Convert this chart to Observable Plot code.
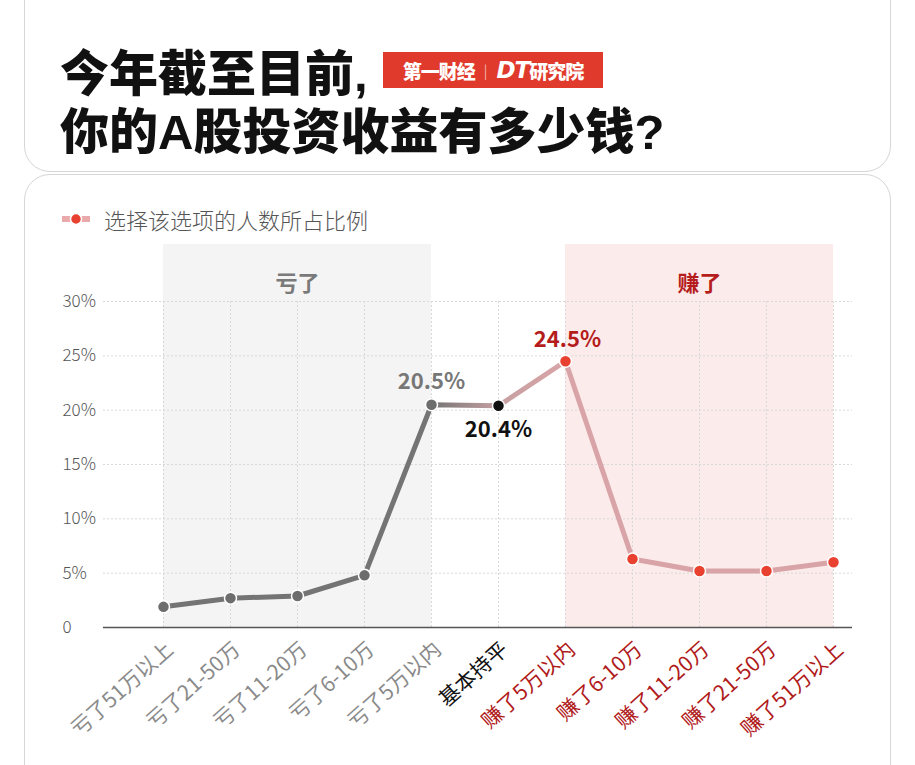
<!DOCTYPE html>
<html><head><meta charset="utf-8">
<script src="https://cdn.jsdelivr.net/npm/d3@7"></script>
<script src="https://cdn.jsdelivr.net/npm/@observablehq/plot@0.6"></script>
<style>
html,body{margin:0;padding:0;background:#fff;width:915px;height:765px;overflow:hidden;font-family:"Noto Sans CJK SC","Noto Sans",sans-serif;}
#page{position:relative;width:915px;height:765px;}
.card{position:absolute;left:24px;width:867px;border:1.5px solid #d6d6d6;border-radius:26px;background:#fff;box-sizing:border-box}
#top{top:-30px;height:202px;}
#bottom{top:174px;height:640px;}
#title{position:absolute;left:60px;top:45px;font-family:"Liberation Sans","Noto Sans CJK SC",sans-serif;font-size:49px;font-weight:900;color:#111;line-height:58px;white-space:nowrap;margin:0}
#logo{position:absolute;left:383px;top:52px;width:220px;height:36px;background:#e03a2c;color:#fff;display:flex;align-items:center;justify-content:center;font-weight:900;white-space:nowrap}
#logo .a{font-size:19px;letter-spacing:-1px}
#logo .sep{font-size:14px;margin:0 9px;opacity:.8;font-weight:300}
#logo .dt{font-size:23px;font-style:italic;font-family:"DejaVu Sans",sans-serif;font-weight:bold;letter-spacing:-1px}
#logo .b{font-size:19px;letter-spacing:-1px}
#legend{position:absolute;left:62px;top:204px;height:30px;display:flex;align-items:center;}
#legend .txt{font-size:22px;color:#555;font-weight:300;margin-left:14px}
#chart{position:absolute;left:0;top:240px;}
</style></head>
<body><div id="page">
<div class="card" id="top"></div>
<div class="card" id="bottom"></div>
<h1 id="title">今年截至目前,<br>你的A股投资收益有多少钱?</h1>
<div id="logo"><span class="a">第一财经</span><span class="sep">|</span><span class="dt">DT</span><span class="b">研究院</span></div>
<div id="legend"><svg width="28" height="16"><line x1="1" y1="8" x2="27" y2="8" stroke="#eaa9aa" stroke-width="6" stroke-linecap="round"/><circle cx="14" cy="8" r="5.5" fill="#e8412f" stroke="#fff" stroke-width="1.5"/></svg><span class="txt">选择该选项的人数所占比例</span></div>
<div id="chart"></div>
</div>
<script>
const categories = ["亏了51万以上","亏了21-50万","亏了11-20万","亏了6-10万","亏了5万以内","基本持平","赚了5万以内","赚了6-10万","赚了11-20万","赚了21-50万","赚了51万以上"];
const shares = [1.9, 2.7, 2.9, 4.8, 20.5, 20.4, 24.5, 6.3, 5.2, 5.2, 6.0];
const groups = ["loss","loss","loss","loss","loss","flat","gain","gain","gain","gain","gain"];
const yTicks = [0, 5, 10, 15, 20, 25, 30];
const labelledIdx = [4, 5, 6];
const bandNames = ["亏了", "赚了"];
const bandGroups = ["loss", "gain"];

const dotColor = {loss: "#6d6d6d", flat: "#111111", gain: "#e8412f"};
const labelColor = {loss: "#8a8a8a", flat: "#111111", gain: "#b01a1a"};
const valueColor = {loss: "#777777", flat: "#111111", gain: "#b51c1c"};
const bandFill = {loss: "#f4f4f4", gain: "#fcebeb"};
const bandText = {loss: "#7a7a7a", gain: "#b51c1c"};

const data = categories.map((c, i) => ({category: c, share: shares[i], group: groups[i], i}));
const bands = bandGroups.map((g, k) => {
  const idx = data.filter(d => d.group === g).map(d => d.i);
  return {group: g, name: bandNames[k], from: categories[idx[0]], to: categories[idx[idx.length - 1]], mid: categories[idx[Math.floor(idx.length / 2)]]};
});
const labelled = data.filter(d => labelledIdx.includes(d.i));

const font = '"Noto Sans CJK SC","Noto Sans",sans-serif';
const svg = Plot.plot({
  width: 915, height: 525,
  marginLeft: 103, marginRight: 63, marginTop: 61, marginBottom: 138,
  x: {type: "point", domain: categories, padding: 0, insetLeft: 58, insetRight: 18, axis: null},
  y: {domain: [0, 30], axis: null},
  color: {type: "identity"},
  style: {fontFamily: font, background: "transparent", overflow: "visible"},
  marks: [
    Plot.rect(bands, {x1: "from", x2: "to", fill: d => bandFill[d.group], insetTop: -57}),
    Plot.ruleY(yTicks.filter(t => t !== 0), {stroke: "#d8d8d8", strokeDasharray: "2,2", strokeWidth: 1}),
    Plot.ruleX(categories, {x: d => d, y1: 0, y2: 30, stroke: "#d8d8d8", strokeDasharray: "2,2", strokeWidth: 1}),
    Plot.ruleY([0], {stroke: "#555", strokeWidth: 1.5}),
    Plot.text(bands, {x: "mid", frameAnchor: "top", dy: -26, text: "name", fill: d => bandText[d.group], fontSize: 22, fontWeight: "bold"}),
    Plot.line(data, {x: "category", y: "share", stroke: "url(#lineGrad)", strokeWidth: 5, curve: "linear", strokeLinejoin: "round"}),
    Plot.dot(data, {x: "category", y: "share", r: 6, fill: d => dotColor[d.group], stroke: "#fff", strokeWidth: 1.5}),
    Plot.text(labelled.filter(d => d.group === "loss"), {x: "category", y: "share", dy: -23, text: d => d.share.toFixed(1) + "%", fill: d => valueColor[d.group], fontSize: 22, fontWeight: "bold"}),
    Plot.text(labelled.filter(d => d.group === "flat"), {x: "category", y: "share", dy: 24, text: d => d.share.toFixed(1) + "%", fill: d => valueColor[d.group], fontSize: 22, fontWeight: "bold"}),
    Plot.text(labelled.filter(d => d.group === "gain"), {x: "category", y: "share", dy: -21, dx: 2, text: d => d.share.toFixed(1) + "%", fill: d => valueColor[d.group], fontSize: 22, fontWeight: "bold"}),
    Plot.text(yTicks, {y: d => d, frameAnchor: "left", dx: -41, textAnchor: "start", text: d => d === 0 ? "0" : d + "%", fill: "#555", fontSize: 17, fontWeight: 300}),
    Plot.text(data, {x: "category", frameAnchor: "bottom", text: "category", rotate: -42, textAnchor: "end", dx: 11, dy: 24, fill: d => labelColor[d.group], fontSize: 21, fontWeight: 400})
  ]
});

// gradient for the line: gray through the loss side, blending to pink towards the gain side
const ns = "http://www.w3.org/2000/svg";
const defs = document.createElementNS(ns, "defs");
const grad = document.createElementNS(ns, "linearGradient");
grad.setAttribute("id", "lineGrad");
grad.setAttribute("x1", "0"); grad.setAttribute("x2", "1");
grad.setAttribute("y1", "0"); grad.setAttribute("y2", "0");
const n = categories.length - 1;
const lastLoss = groups.lastIndexOf("loss") / n;
const flat = groups.indexOf("flat") / n;
[[0, "#747474"], [lastLoss, "#747474"], [flat, "#c7a0a2"], [groups.indexOf("gain") / n, "#d9a4a7"], [1, "#d9a4a7"]].forEach(([o, c]) => {
  const s = document.createElementNS(ns, "stop");
  s.setAttribute("offset", o);
  s.setAttribute("stop-color", c);
  grad.appendChild(s);
});
defs.appendChild(grad);
svg.insertBefore(defs, svg.firstChild);
document.getElementById("chart").appendChild(svg);
</script>
</body></html>
